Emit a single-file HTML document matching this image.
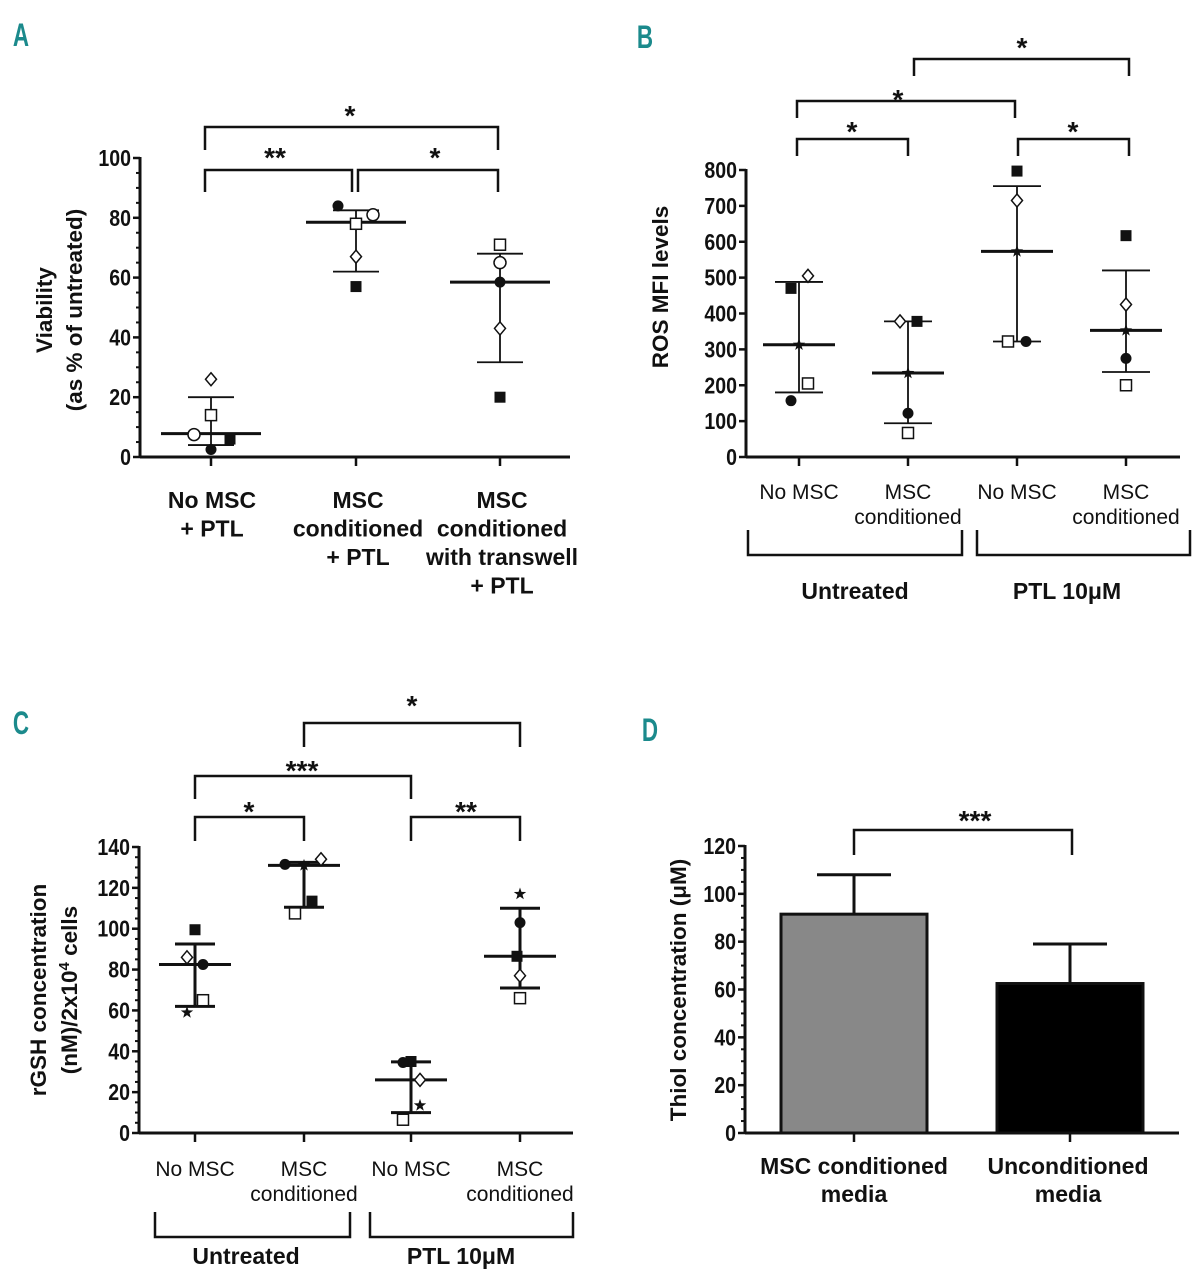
<!DOCTYPE html>
<html><head><meta charset="utf-8"><style>
html,body{margin:0;padding:0;background:#fff;}
svg{display:block;}
.tk{font-family:"Liberation Sans",sans-serif;font-weight:bold;font-size:23px;fill:#111;}
.yt{font-family:"Liberation Sans",sans-serif;font-weight:bold;font-size:22.5px;fill:#111;}
.cl{font-family:"Liberation Sans",sans-serif;font-weight:bold;font-size:23px;fill:#111;}
.rl{font-family:"Liberation Sans",sans-serif;font-size:21px;fill:#111;}
.pl{font-family:"Liberation Sans",sans-serif;font-weight:bold;font-size:32px;fill:#1b8a8c;}
.st{font-family:"Liberation Sans",sans-serif;font-weight:bold;font-size:28px;fill:#111;}
</style></head><body>
<svg id="fig" width="1201" height="1280" viewBox="0 0 1201 1280" xmlns="http://www.w3.org/2000/svg"></svg>
<script>
// ---- Panel A data ----
const aCats = ['No MSC + PTL','MSC conditioned + PTL','MSC conditioned with transwell + PTL'];
const aMean = [7.8, 78.5, 58.5];
const aHi = [20, 82.5, 68];
const aLo = [4, 62, 31.7];
const aFilledSq = [6, 57, 20];
const aOpenSq = [14, 78, 71];
const aFilledCirc = [2.5, 84, 58.5];
const aOpenCirc = [7.5, 81, 65];
const aDiamond = [26, 67, 43];
const aTicks = [0, 20, 40, 60, 80, 100];
// ---- Panel B data ----
const bCats = ['No MSC','MSC conditioned','No MSC','MSC conditioned'];
const bMean = [313, 234, 573, 353];
const bHi = [488, 378, 755, 520];
const bLo = [180, 94, 322, 237];
const bFilledSq = [470, 378, 797, 617];
const bOpenSq = [205, 67, 322, 200];
const bFilledCirc = [157, 122, 322, 275];
const bDiamond = [505, 378, 715, 425];
const bStar = [313, 234, 573, 353];
const bTicks = [0, 100, 200, 300, 400, 500, 600, 700, 800];
// ---- Panel C data ----
const cCats = ['No MSC','MSC conditioned','No MSC','MSC conditioned'];
const cMean = [82.5, 131, 26, 86.5];
const cHi = [92.5, 132.5, 34.8, 110];
const cLo = [62, 110.5, 10, 71];
const cFilledSq = [99.5, 113.5, 35, 86.5];
const cOpenSq = [65, 107.5, 6.5, 66];
const cFilledCirc = [82.5, 131.5, 34.5, 103];
const cDiamond = [86, 134, 26, 77];
const cStar = [59, 131, 13.5, 117];
const cTicks = [0, 20, 40, 60, 80, 100, 120, 140];
// ---- Panel D data ----
const dCats = ['MSC conditioned media','Unconditioned media'];
const dVals = [91.5, 62.5];
const dErr = [108, 79];
const dTicks = [0, 20, 40, 60, 80, 100, 120];

const NS = 'http://www.w3.org/2000/svg';
const svg = document.getElementById('fig');
function mk(tag, attrs, name, parent) {
  const el = document.createElementNS(NS, tag);
  for (const k in attrs) el.setAttribute(k, attrs[k]);
  
  
  (parent || svg).appendChild(el);
  return el;
}
function txt(x, y, s, cls, name, anchor, rot, sx) {
  const a = {x: 0, y: 0, class: cls, 'text-anchor': anchor || 'middle'};
  let tr = 'translate(' + x + ' ' + y + ')';
  if (rot) tr += ' rotate(-90)';
  if (sx) tr += ' scale(' + sx + ' 1)';
  a.transform = tr;
  const t = mk('text', a, name);
  t.textContent = s;
  return t;
}
function line(x1, y1, x2, y2, w, name) {
  return mk('line', {x1: x1, y1: y1, x2: x2, y2: y2, stroke: '#111', 'stroke-width': w}, name);
}
function bracket(x1, x2, y, yd, name) {
  return mk('polyline', {points: x1 + ',' + yd + ' ' + x1 + ',' + y + ' ' + x2 + ',' + y + ' ' + x2 + ',' + yd, fill: 'none', stroke: '#111', 'stroke-width': 2.5}, name);
}
function marker(type, cx, cy, name) {
  const s = 5.5;
  if (type === 'fsq') return mk('rect', {x: cx - s, y: cy - s, width: 2 * s, height: 2 * s, fill: '#111'}, name);
  if (type === 'osq') return mk('rect', {x: cx - s, y: cy - s, width: 2 * s, height: 2 * s, fill: '#fff', stroke: '#111', 'stroke-width': 1.5}, name);
  if (type === 'fci') return mk('circle', {cx: cx, cy: cy, r: 5.5, fill: '#111'}, name);
  if (type === 'oci') return mk('circle', {cx: cx, cy: cy, r: 6, fill: '#fff', stroke: '#111', 'stroke-width': 1.5}, name);
  if (type === 'dia') return mk('polygon', {points: cx + ',' + (cy - 6.5) + ' ' + (cx + 5.5) + ',' + cy + ' ' + cx + ',' + (cy + 6.5) + ' ' + (cx - 5.5) + ',' + cy, fill: '#fff', stroke: '#111', 'stroke-width': 1.5}, name);
  if (type === 'star') {
    let p = [];
    for (let i = 0; i < 10; i++) {
      const r = i % 2 ? 2.6 : 6.5, a = -Math.PI / 2 + i * Math.PI / 5;
      p.push((cx + r * Math.cos(a)).toFixed(1) + ',' + (cy + r * Math.sin(a)).toFixed(1));
    }
    return mk('polygon', {points: p.join(' '), fill: '#111'}, name);
  }
}
function axes(ax, ticks, minorStep, prefix) {
  line(ax.x0, ax.yTop - 1, ax.x0, ax.yBot, 3, prefix + '-y-axis');
  line(ax.x0, ax.yBot, ax.xEnd, ax.yBot, 3, prefix + '-x-axis');
  const max = ticks[ticks.length - 1];
  ticks.forEach(v => {
    const y = ax.y(v);
    line(ax.x0 - 7, y, ax.x0, y, 2.5, prefix + '-y-tick');
    txt(ax.x0 - 9, y + 8, String(v), 'tk', prefix + '-y-tick-label', 'end', false, 0.85);
  });
  if (minorStep) {
    for (let v = 0; v <= max; v += minorStep) {
      if (ticks.indexOf(v) >= 0) continue;
      line(ax.x0 - 4, ax.y(v), ax.x0, ax.y(v), 2, prefix + '-y-minor-tick');
    }
  }
  ax.gx.forEach(x => line(x, ax.yBot, x, ax.yBot + 9, 2.5, prefix + '-x-tick'));
}
function scatterPanel(ax, means, his, los, series, meanW, capW, errW, prefix) {
  means.forEach((m, i) => {
    const x = ax.gx[i];
    line(x, ax.y(his[i]), x, ax.y(los[i]), errW, prefix + '-error-bar');
    line(x - capW, ax.y(his[i]), x + capW, ax.y(his[i]), errW, prefix + '-error-cap-top');
    line(x - capW, ax.y(los[i]), x + capW, ax.y(los[i]), errW, prefix + '-error-cap-bottom');
    line(x - meanW, ax.y(m), x + meanW, ax.y(m), 3, prefix + '-mean-line');
  });
  series.forEach(s => {
    s.vals.forEach((v, i) => marker(s.type, ax.gx[i] + s.dx[i], ax.y(v), prefix + '-point-' + s.name));
  });
}
function mkAxis(x0, xEnd, yTop, yBot, max, gx) {
  return {x0: x0, xEnd: xEnd, yTop: yTop, yBot: yBot, gx: gx, y: v => yBot - (yBot - yTop) * v / max};
}

// ===== Panel A =====
txt(21, 46, 'A', 'pl', 'panel-a-label', 'middle', false, 0.7);
const A = mkAxis(140, 570, 158, 457, 100, [211, 356, 500]);
axes(A, aTicks, 5, 'a');
scatterPanel(A, aMean, aHi, aLo, [
  {name: 'filled-square', type: 'fsq', vals: aFilledSq, dx: [19, 0, 0]},
  {name: 'open-square', type: 'osq', vals: aOpenSq, dx: [0, 0, 0]},
  {name: 'filled-circle', type: 'fci', vals: aFilledCirc, dx: [0, -18, 0]},
  {name: 'open-circle', type: 'oci', vals: aOpenCirc, dx: [-17, 17, 0]},
  {name: 'open-diamond', type: 'dia', vals: aDiamond, dx: [0, 0, 0]}
], 50, 23, 1.8, 'a');
bracket(205, 498, 127, 150, 'a-sig-bracket-1-3');
txt(350, 125, '*', 'st', 'a-sig-star');
bracket(205, 352, 170, 192, 'a-sig-bracket-1-2');
txt(275, 167, '**', 'st', 'a-sig-star');
bracket(358, 498, 170, 192, 'a-sig-bracket-2-3');
txt(435, 167, '*', 'st', 'a-sig-star');
txt(52, 310, 'Viability', 'yt', 'a-y-axis-title', 'middle', true);
txt(82, 310, '(as % of untreated)', 'yt', 'a-y-axis-title', 'middle', true);
[['No MSC', '+ PTL'], ['MSC', 'conditioned', '+ PTL'], ['MSC', 'conditioned', 'with transwell', '+ PTL']].forEach((ls, i) => {
  ls.forEach((l, j) => txt([212, 358, 502][i], 508 + j * 28.5, l, 'cl', 'a-category-label'));
});

// ===== Panel B =====
txt(645, 48, 'B', 'pl', 'panel-b-label', 'middle', false, 0.7);
const B = mkAxis(746, 1180, 170, 457, 800, [799, 908, 1017, 1126]);
axes(B, bTicks, 0, 'b');
scatterPanel(B, bMean, bHi, bLo, [
  {name: 'filled-square', type: 'fsq', vals: bFilledSq, dx: [-8, 9, 0, 0]},
  {name: 'open-square', type: 'osq', vals: bOpenSq, dx: [9, 0, -9, 0]},
  {name: 'filled-circle', type: 'fci', vals: bFilledCirc, dx: [-8, 0, 9, 0]},
  {name: 'open-diamond', type: 'dia', vals: bDiamond, dx: [9, -8, 0, 0]},
  {name: 'star', type: 'star', vals: bStar, dx: [0, 0, 0, 0]}
], 36, 24, 1.8, 'b');
bracket(914, 1129, 59, 76, 'b-sig-bracket-2-4');
txt(1022, 57, '*', 'st', 'b-sig-star');
bracket(797, 1015, 101, 118, 'b-sig-bracket-1-3');
txt(898, 109, '*', 'st', 'b-sig-star');
bracket(797, 908, 139, 156, 'b-sig-bracket-1-2');
txt(852, 141, '*', 'st', 'b-sig-star');
bracket(1018, 1129, 139, 156, 'b-sig-bracket-3-4');
txt(1073, 141, '*', 'st', 'b-sig-star');
txt(668, 287, 'ROS MFI levels', 'yt', 'b-y-axis-title', 'middle', true);
[['No MSC'], ['MSC', 'conditioned'], ['No MSC'], ['MSC', 'conditioned']].forEach((ls, i) => {
  ls.forEach((l, j) => txt(B.gx[i], 499 + j * 25, l, 'rl', 'b-category-label'));
});
bracket(748, 962, 555, 530, 'b-group-bracket-untreated');
bracket(977, 1190, 555, 530, 'b-group-bracket-ptl');
txt(855, 599, 'Untreated', 'cl', 'b-group-label');
txt(1067, 599, 'PTL 10\u03bcM', 'cl', 'b-group-label');

// ===== Panel C =====
txt(21, 734, 'C', 'pl', 'panel-c-label', 'middle', false, 0.7);
const C = mkAxis(139, 573, 847, 1133, 140, [195, 304, 411, 520]);
axes(C, cTicks, 5, 'c');
scatterPanel(C, cMean, cHi, cLo, [
  {name: 'filled-square', type: 'fsq', vals: cFilledSq, dx: [0, 8, 0, -3]},
  {name: 'open-square', type: 'osq', vals: cOpenSq, dx: [8, -9, -8, 0]},
  {name: 'filled-circle', type: 'fci', vals: cFilledCirc, dx: [8, -19, -8, 0]},
  {name: 'open-diamond', type: 'dia', vals: cDiamond, dx: [-8, 17, 9, 0]},
  {name: 'star', type: 'star', vals: cStar, dx: [-8, 0, 9, 0]}
], 36, 20, 3, 'c');
bracket(304, 520, 723, 747, 'c-sig-bracket-2-4');
txt(412, 715, '*', 'st', 'c-sig-star');
bracket(195, 411, 776, 799, 'c-sig-bracket-1-3');
txt(302, 780, '***', 'st', 'c-sig-star');
bracket(195, 304, 817, 841, 'c-sig-bracket-1-2');
txt(249, 821, '*', 'st', 'c-sig-star');
bracket(411, 520, 817, 841, 'c-sig-bracket-3-4');
txt(466, 821, '**', 'st', 'c-sig-star');
txt(46, 990, 'rGSH concentration', 'yt', 'c-y-axis-title', 'middle', true);
const ct = txt(77, 990, '(nM)/2x10', 'yt', 'c-y-axis-title', 'middle', true);
const sup = document.createElementNS(NS, 'tspan');


sup.setAttribute('dy', '-8');
sup.setAttribute('font-size', '15');
sup.textContent = '4';
ct.appendChild(sup);
const rest = document.createElementNS(NS, 'tspan');


rest.setAttribute('dy', '8');
rest.textContent = ' cells';
ct.appendChild(rest);
[['No MSC'], ['MSC', 'conditioned'], ['No MSC'], ['MSC', 'conditioned']].forEach((ls, i) => {
  ls.forEach((l, j) => txt(C.gx[i], 1176 + j * 25, l, 'rl', 'c-category-label'));
});
bracket(155, 350, 1237, 1212, 'c-group-bracket-untreated');
bracket(370, 573, 1237, 1212, 'c-group-bracket-ptl');
txt(246, 1264, 'Untreated', 'cl', 'c-group-label');
txt(461, 1264, 'PTL 10\u03bcM', 'cl', 'c-group-label');

// ===== Panel D =====
txt(650, 741, 'D', 'pl', 'panel-d-label', 'middle', false, 0.7);
const D = mkAxis(745, 1179, 846, 1133, 120, [854, 1070]);
const dFill = ['#888888', '#000000'];
const barW = 146;
dVals.forEach((v, i) => {
  const x = D.gx[i];
  line(x, D.y(dErr[i]), x, D.y(v), 3, 'd-error-bar');
  line(x - 37, D.y(dErr[i]), x + 37, D.y(dErr[i]), 3, 'd-error-cap');
  mk('rect', {x: x - barW / 2, y: D.y(v), width: barW, height: D.yBot - D.y(v), fill: dFill[i], stroke: '#111', 'stroke-width': 3}, 'd-bar-' + (i + 1));
});
axes(D, dTicks, 5, 'd');
bracket(854, 1072, 830, 855, 'd-sig-bracket');
txt(975, 830, '***', 'st', 'd-sig-star');
txt(686, 990, 'Thiol concentration (\u03bcM)', 'yt', 'd-y-axis-title', 'middle', true);
[['MSC conditioned', 'media'], ['Unconditioned', 'media']].forEach((ls, i) => {
  ls.forEach((l, j) => {
    txt(D.gx[i] - (i ? 2 : 0), 1174 + j * 28, l, 'cl', 'd-category-label');
  });
});
</script>
</body></html>
